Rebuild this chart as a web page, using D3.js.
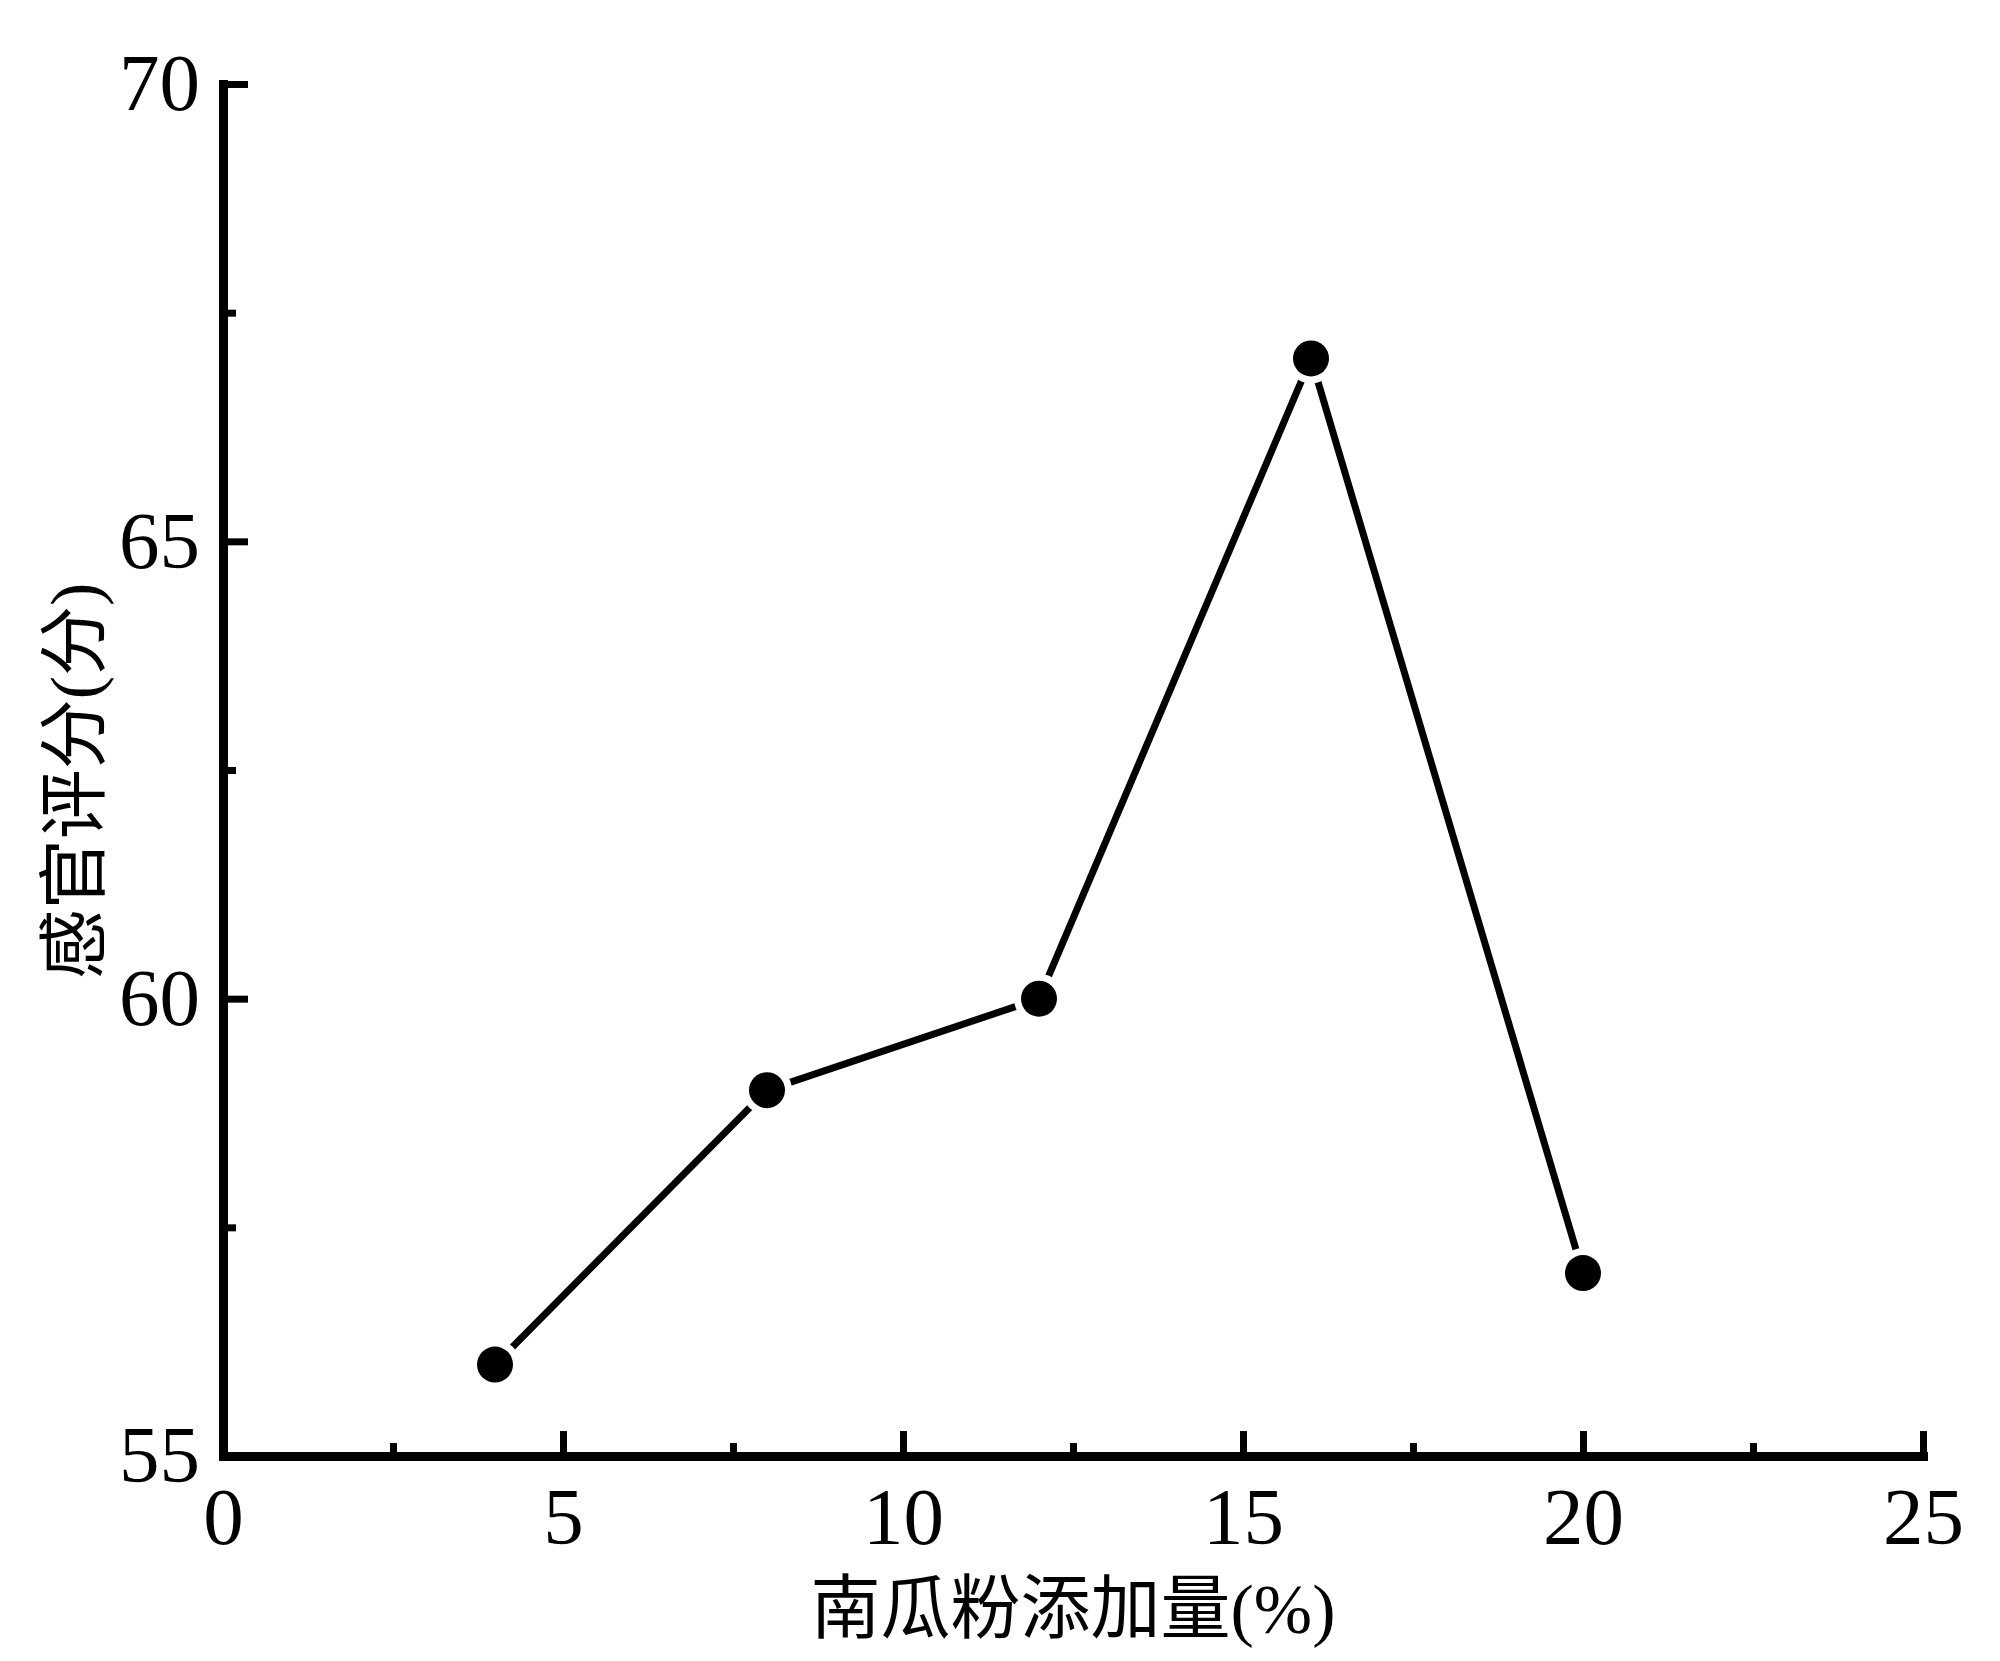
<!DOCTYPE html>
<html>
<head>
<meta charset="utf-8">
<script src="https://cdn.jsdelivr.net/npm/d3@7"></script>
<style>
  body { margin: 0; background: #fff; }
  svg { display: block; }
</style>
</head>
<body>
<svg id="chart" width="2000" height="1661"></svg>
<script>
// pumpkin powder added (%) vs sensory score
var addition = [4, 8, 12, 16, 20];
var score = [56, 59, 60, 67, 57];
var xMajor = [0, 5, 10, 15, 20, 25];
var xMinor = [2.5, 7.5, 12.5, 17.5, 22.5];
var yMajor = [55, 60, 65, 70];
var yMinor = [57.5, 62.5, 67.5];

var svg = d3.select('#chart');
var x = d3.scaleLinear().domain([0, 25]).range([223, 1923]);
var y = d3.scaleLinear().domain([55, 70]).range([1456, 84]);

var numFont = '"Liberation Serif", "Times New Roman", serif';
var cjkFont = '"Liberation Serif", "Noto Sans CJK SC", serif';

// x axis
svg.append('g').attr('transform', 'translate(0,' + y(55) + ')')
  .call(d3.axisBottom(x).tickValues(xMajor).tickSize(-25).tickSizeOuter(0).tickPadding(30).tickFormat(d3.format('d')));
svg.append('g').attr('transform', 'translate(0,' + y(55) + ')')
  .call(d3.axisBottom(x).tickValues(xMinor).tickSize(-13).tickSizeOuter(0).tickFormat(''))
  .select('.domain').remove();

// y axis
svg.append('g').attr('transform', 'translate(' + x(0) + ',0)')
  .call(d3.axisLeft(y).tickValues(yMajor).tickSize(-25).tickSizeOuter(0).tickPadding(23).tickFormat(d3.format('d')));
svg.append('g').attr('transform', 'translate(' + x(0) + ',0)')
  .call(d3.axisLeft(y).tickValues(yMinor).tickSize(-13).tickSizeOuter(0).tickFormat(''))
  .select('.domain').remove();

svg.selectAll('.domain').attr('stroke', '#000').attr('stroke-width', 9).attr('stroke-linecap', 'square');
svg.selectAll('.tick line').attr('stroke', '#000').attr('stroke-width', 7);
svg.selectAll('.tick text').attr('font-family', numFont).attr('font-size', 81).attr('fill', '#000');

// line
var line = d3.line().x(function(d, i) { return x(addition[i]); }).y(function(d) { return y(d); });
svg.append('path').datum(score)
  .attr('d', line)
  .attr('fill', 'none')
  .attr('stroke', '#000')
  .attr('stroke-width', 7);

// markers with white halo
svg.selectAll('circle.halo').data(score).enter().append('circle')
  .attr('class', 'halo')
  .attr('cx', function(d, i) { return x(addition[i]); })
  .attr('cy', function(d) { return y(d); })
  .attr('r', 25)
  .attr('fill', '#fff');
svg.selectAll('circle.dot').data(score).enter().append('circle')
  .attr('class', 'dot')
  .attr('cx', function(d, i) { return x(addition[i]); })
  .attr('cy', function(d) { return y(d); })
  .attr('r', 18)
  .attr('fill', '#000');

// titles
svg.append('text')
  .attr('x', (x(0) + x(25)) / 2)
  .attr('y', 1633)
  .attr('text-anchor', 'middle')
  .attr('font-family', cjkFont)
  .attr('font-size', 70)
  .text('南瓜粉添加量(%)');

svg.append('text')
  .attr('transform', 'translate(99,781) rotate(-90)')
  .attr('text-anchor', 'middle')
  .attr('font-family', cjkFont)
  .attr('font-size', 70)
  .text('感官评分(分)');
</script>
</body>
</html>
